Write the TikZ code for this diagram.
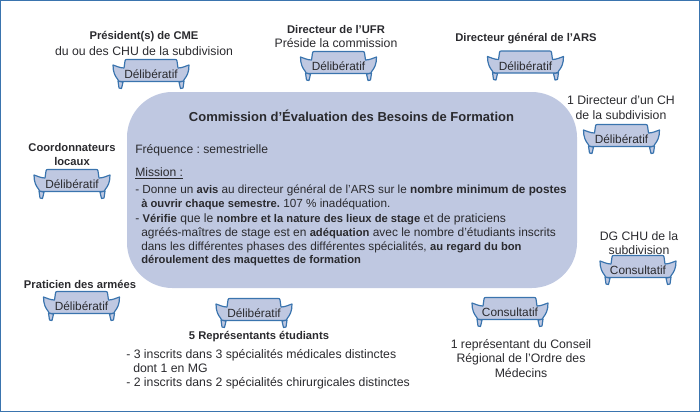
\documentclass[tikz,border=0pt]{standalone}
\usepackage{fontspec}
\setmainfont{Liberation Sans}
\frenchspacing
\definecolor{sofablue}{HTML}{3A74AE}
\definecolor{boxblue}{HTML}{BFC8E1}
\definecolor{inkgrey}{HTML}{2A2A2E}
\newcommand{\bt}[2][8.4]{{\fontsize{#1}{10}\selectfont\bfseries #2}}
\tikzset{
  txt/.style={inner sep=0pt, text=inkgrey, font=\fontsize{9.2}{10}\selectfont},
  boldtxt/.style={txt, font=\fontsize{8.4}{10}\selectfont\bfseries},
  linetxt/.style={txt, anchor=base west},
  sofa/.pic={
    \draw[sofablue, fill=boxblue, line width=0.9pt, line join=round]
      (-33,7) -- (-32,14) -- (-29.5,14.5) -- (-28,8) -- cycle
      (33,7) -- (32,14) -- (29.5,14.5) -- (28,8) -- cycle;
    \draw[sofablue, fill=boxblue, line width=0.9pt, line join=round]
      (-27,-6) -- (-26,-13) .. controls (-26,-14.5) and (-25,-14.5) .. (-24,-14.5)
      -- (24,-14.5) .. controls (25,-14.5) and (26,-14.5) .. (26,-13) -- (27,-6)
      .. controls (31,-6) and (35,-8) .. (38,-9)
      .. controls (38,-2) and (36,2) .. (33.5,5) .. controls (33,7) and (32,7.5) .. (30,7.5)
      -- (-30,7.5) .. controls (-32,7.5) and (-33,7) .. (-33.5,5)
      .. controls (-36,2) and (-38,-2) .. (-38,-9)
      .. controls (-35,-8) and (-31,-6) .. (-27,-6) -- cycle;
    \node[txt, font=\fontsize{8.9}{10}\selectfont] (-lab) at (0,0.5) {\tikzpictext};
  },
}
\begin{document}
\begin{tikzpicture}[x=0.75pt,y=-0.75pt]
  \useasboundingbox (0,0) rectangle (700,412);
  \draw[sofablue, line width=1pt] (0.5,0.5) rectangle (699.5,411.5);
  % central box
  \node[fill=boxblue, rounded corners=34pt, minimum width=337.5pt, minimum height=147pt, inner sep=0pt] (commission) at (352,190) {};
  \node[boldtxt, font=\fontsize{9.75}{12}\selectfont\bfseries] (titre) at (351.5,116) {Commission d’Évaluation des Besoins de Formation};
  \node[linetxt, font=\fontsize{9.1}{10}\selectfont] (freq) at (135,153) {Fréquence : semestrielle};
  \node[linetxt, font=\fontsize{9.1}{10}\selectfont] (mission) at (135,176) {\underline{Mission :}};
  \node[linetxt, font=\fontsize{8.8}{10}\selectfont] (l1) at (135,193) {- Donne un \bt{avis} au directeur général de l’ARS sur le \bt[8.8]{nombre minimum de postes}};
  \node[linetxt, font=\fontsize{8.8}{10}\selectfont] (l2) at (141,207) {\bt{à ouvrir chaque semestre.} 107 \% inadéquation.};
  \node[linetxt, font=\fontsize{9.1}{10}\selectfont] (l3) at (135,222) {- \bt{Vérifie} que le \bt{nombre et la nature des lieux de stage} et de praticiens};
  \node[linetxt, font=\fontsize{8.95}{10}\selectfont] (l4) at (141,236) {agréés-maîtres de stage est en \bt{adéquation} avec le nombre d’étudiants inscrits};
  \node[linetxt, font=\fontsize{8.85}{10}\selectfont] (l5) at (141,250) {dans les différentes phases des différentes spécialités, \bt{au regard du bon}};
  \node[linetxt] (l6) at (141,263) {\bt{déroulement des maquettes de formation}};
  % top row
  \node[boldtxt] (cme) at (144,37) {Président(s) de CME};
  \node[txt] (cmeb) at (144,51) {du ou des CHU de la subdivision};
  \pic[pic text=Délibératif] (sofacme) at (151,74) {sofa};
  \node[boldtxt] (ufr) at (336,29) {Directeur de l’UFR};
  \node[txt] (ufrb) at (336,43) {Préside la commission};
  \pic[pic text=Délibératif] (sofaufr) at (338.5,66) {sofa};
  \node[boldtxt] (ars) at (526,39) {Directeur général de l’ARS};
  \pic[pic text=Délibératif] (sofaars) at (525.5,65.5) {sofa};
  % right side
  \node[txt] (ch) at (621,100) {1 Directeur d’un CH};
  \node[txt] (chb) at (621,115) {de la subdivision};
  \pic[pic text=Délibératif] (sofach) at (621.5,139) {sofa};
  \node[txt] (dg) at (639,236) {DG CHU de la};
  \node[txt] (dgb) at (639,250) {subdivision};
  \pic[pic text=Consultatif] (sofadg) at (638,270) {sofa};
  % left side
  \node[boldtxt] (coord) at (72,147) {Coordonnateurs};
  \node[boldtxt] (coordb) at (72,161) {locaux};
  \pic[pic text=Délibératif] (sofacoord) at (72,184) {sofa};
  \node[boldtxt] (armees) at (80,284) {Praticien des armées};
  \pic[pic text=Délibératif] (sofaarmees) at (81.5,306) {sofa};
  % bottom row
  \pic[pic text=Délibératif] (sofaetu) at (254,313) {sofa};
  \node[boldtxt] (etu) at (259,337) {5 Représentants étudiants};
  \node[linetxt] (etua) at (126,358) {- 3 inscrits dans 3 spécialités médicales distinctes};
  \node[linetxt] (etub) at (133,372) {dont 1 en MG};
  \node[linetxt] (etuc) at (126,386) {- 2 inscrits dans 2 spécialités chirurgicales distinctes};
  \pic[pic text=Consultatif] (sofaordre) at (510,312) {sofa};
  \node[txt] (ordre) at (521,345.5) {1 représentant du Conseil};
  \node[txt] (ordreb) at (521,359.5) {Régional de l’Ordre des};
  \node[txt] (ordrec) at (521,373) {Médecins};
\end{tikzpicture}
\end{document}
